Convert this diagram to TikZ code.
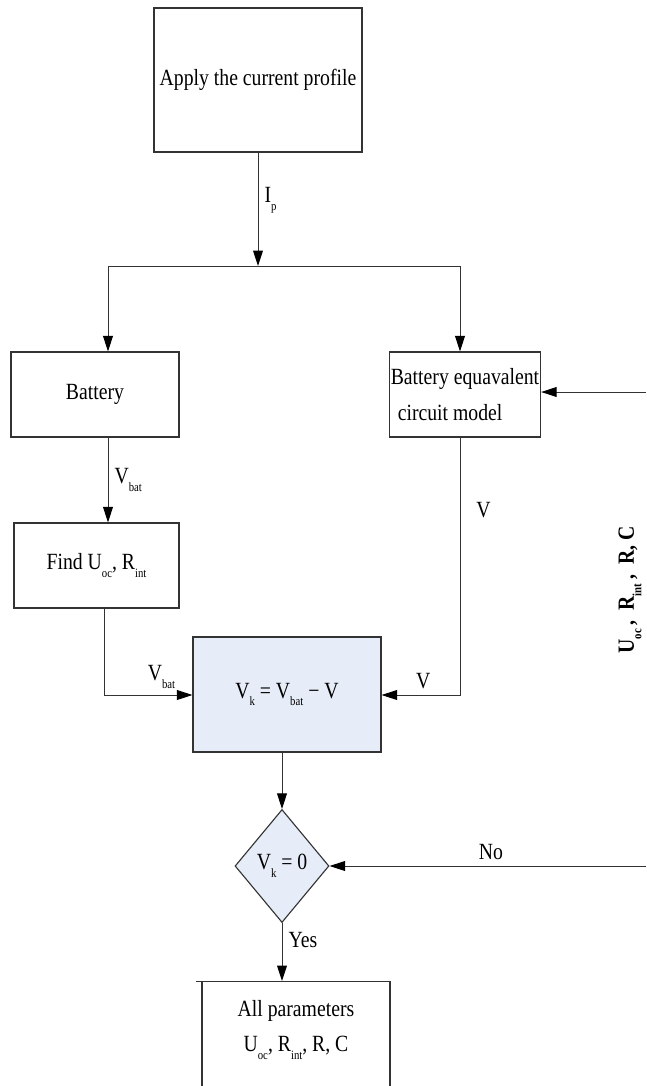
\documentclass[tikz,border=0pt]{standalone}
\usepackage{fontspec}
\setmainfont[FakeStretch=0.85]{Liberation Serif}
\usetikzlibrary{arrows.meta,shapes.geometric}

\definecolor{calcblue}{RGB}{231,237,248}
\newcommand{\px}{0.025cm}
\newcommand{\lo}[1]{\raisebox{-0.7ex}{\fontsize{9}{9}\selectfont #1}}

\tikzset{
  flow/.style={draw=black!80, line width=0.7pt},
  arr/.style={flow, -{Triangle[length=11pt,width=7pt,fill=black,color=black]}},
  blk/.style={draw=black!80, line width=0.8pt, align=center, inner sep=1pt},
  twoline/.style={font=\fontsize{16.5}{25}\selectfont},
}

\begin{document}
\begin{tikzpicture}[x=\px, y=-\px, every node/.style={font=\fontsize{16.5}{19}\selectfont}]
    \useasboundingbox (0,0) rectangle (646,1086);
    % Blocks
    \node[blk, minimum width=208*\px, minimum height=144*\px] (prof) at (258,80) {Apply the current profile};
    \node[blk, minimum width=168*\px, minimum height=85*\px] (battery) at (95,394.5) {Battery};
    \node[blk, twoline, align=left, minimum width=150*\px, minimum height=85*\px] (ecm) at (465,394.5) {Battery equavalent\\\hspace{0.3em}circuit model};
    \node[blk, minimum width=165*\px, minimum height=85*\px] (find) at (96.5,565.5) {Find U\lo{oc}, R\lo{int}};
    \node[blk, fill=calcblue, minimum width=188*\px, minimum height=115*\px] (calc) at (287,694.5) {V\lo{k} = V\lo{bat} − V};
    \node[blk, fill=calcblue, shape=diamond, inner sep=0pt, minimum width=94*\px, minimum height=113*\px] (dec) at (282,866) {V\lo{k} = 0};
    \node[blk, anchor=north, minimum width=188*\px, minimum height=140*\px] (allbox) at (296,981) {};
    \node[twoline, align=center] (allpar) at (296,1030) {All parameters\\U\lo{oc}, R\lo{int}, R, C};
    \draw[flow] (allbox.north west) -- ++(-5,0);
    % Feedback label and free ends
    \node[rotate=90, font=\bfseries\fontsize{16.5}{19}\selectfont] (fblabel) at (630,590) {U\lo{oc}\,,\ \ R\lo{int}\,,\ \ R, C};
    \coordinate (fbTop) at (646,392);
    \coordinate (fbBot) at (646,866);
    \coordinate (splitL) at (108,266);
    \coordinate (splitR) at (460,266);
    \coordinate (findOut) at (104,695);
    \coordinate (ecmOut) at (460,695);
    % Connectors
    \draw[arr] (prof.south) -- (prof.south |- splitL) node[pos=0.42, right=1pt] {I\lo{p}};
    \draw[flow] (splitL) -- (splitR);
    \draw[arr] (splitL) -- (splitL |- battery.north);
    \draw[arr] (splitR) -- (splitR |- ecm.north);
    \draw[arr] (splitL |- battery.south) -- (splitL |- find.north) node[midway, right=1pt] {V\lo{bat}};
    \draw[arr] (findOut |- find.south) -- (findOut) -- (calc.west |- findOut) node[pos=0.65, above=1pt] {V\lo{bat}};
    \draw[arr] (ecmOut |- ecm.south) -- node[pos=0.28, right=8pt] {V} (ecmOut) -- node[pos=0.47, above=1pt] {V} (calc.east |- ecmOut);
    \draw[arr] (calc.south -| dec) -- (dec.north);
    \draw[arr] (dec.south) -- (dec.south |- allbox.north) node[pos=0.3, right=1pt] {Yes};
    \draw[arr] (fbTop) -- (fbTop -| ecm.east);
    \draw[arr] (fbBot) -- (dec.east) node[pos=0.49, above=1pt] {No};
\end{tikzpicture}
\end{document}
